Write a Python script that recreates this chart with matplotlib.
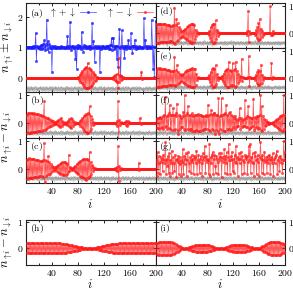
import matplotlib
matplotlib.use("Agg")
import matplotlib.pyplot as plt
from matplotlib.ticker import FuncFormatter, MultipleLocator

plt.rcParams.update({
    "mathtext.fontset": "cm",
    "font.family": "serif",
    "font.serif": ["DejaVu Serif"],
    "font.size": 7,
})

sites = list(range(1, 201))

a_sum = [1.00, 0.99, 1.01, 0.98, 1.02, 1.00, 0.99, 1.01, 1.00, 0.98, 1.03, 0.97, 1.02, 1.05, 1.46, 0.56, 1.04, 0.96, 1.02, 0.99,
         1.03, 0.95, 1.06, 0.93, 1.08, 0.96, 1.10, 1.22, 1.05, 0.90, 1.12, 1.89, 0.95, 1.20, 0.85, 1.10, 0.96, 1.04, 0.98, 0.20,
         1.05, 0.98, 1.02, 0.97, 1.03, 0.99, 1.01, 0.98, 1.02, 1.00, 0.99, 1.01, 0.98, 1.03, 0.97, 1.02, 1.00, 0.99, 1.01, 0.98,
         1.02, 0.97, 1.03, 1.35, 0.96, 1.04, 0.98, 1.83, 1.02, 0.90, 1.05, 0.97, 1.03, 0.98, 1.02, 0.62, 1.04, 0.30, 0.98, 1.08,
         0.96, 1.04, 0.97, 1.03, 0.95, 1.50, 1.02, 0.85, 1.06, 0.97, 1.03, 0.96, 1.04, 0.98, 1.02, 0.97, 1.05, 0.95, 1.03, 0.98,
         1.02, 1.78, 0.97, 1.20, 1.01, 0.53, 1.04, 0.96, 1.03, 0.98, 1.02, 0.97, 1.04, 0.20, 1.02, 0.95, 1.05, 0.98, 1.03, 0.97,
         1.02, 0.98, 1.03, 0.97, 1.04, 0.96, 1.05, 0.95, 1.06, 0.94, 1.08, 1.30, 0.92, 1.05, 1.30, 0.95, 1.04, 0.96, 1.03, 0.62,
         1.05, 0.35, 1.02, 1.60, 0.98, 0.05, 1.04, 1.55, 0.96, 1.03, 0.97, 0.65, 1.05, 0.95, 1.04, 0.97, 1.03, 1.25, 0.96, 1.02,
         0.97, 1.45, 1.03, 0.80, 1.05, 0.96, 1.04, 1.25, 0.95, 1.03, 0.97, 1.02, 0.98, 1.03, 0.97, 1.02, 0.98, 1.01, 0.99, 1.02,
         0.97, 1.94, 1.03, 1.25, 0.96, 1.04, 0.98, 1.02, 0.97, 1.03, 0.98, 1.02, 0.97, 1.89, 1.03, 0.30, 1.00, 0.02, 1.02, 1.85]

a_diff = ([0.0] * 80 +
          [0.04, -0.06, 0.10, -0.12, 0.16, -0.18, 0.22, -0.24, 0.28, -0.30, 0.32, -0.33, 0.35, -0.34, 0.48, -0.32, 0.33, -0.30, 0.30, -0.28,
           0.25, -0.22, 0.20, -0.17, 0.14, -0.11, 0.08, -0.06, 0.04, -0.02, 0.01, 0.0, 0.0, 0.0, 0.0, 0.0, 0.0, 0.0, 0.0, 0.0] +
          [0.0] * 13 +
          [0.02, -0.03, 0.05, -0.06, 0.08, -0.10, 0.12, -0.15, -0.34, 0.64, -0.12, 0.10, -0.07, 0.05, -0.03, 0.02, -0.01] +
          [0.0] * 27 + [0.20, -0.05] + [0.0] * 21)

b_diff = ([0.30, -0.35, 0.36, -0.34, 0.37, -0.35, 0.36, -0.34, 0.35, -0.33, 0.34, -0.33, 0.35, -0.32, 0.33, -0.31, 0.32, -0.30, 0.31, -0.29,
           0.30, -0.28, 0.28, -0.27, 0.26, -0.25, 0.25, 0.78, -0.24, 0.22, -0.21, 0.20, -0.18, 0.17, -0.15, 0.14, -0.12, 0.11, -0.09, 0.08,
           -0.07, 0.06, -0.05, 0.04, -0.03, 0.03, -0.04, 0.06, -0.08, 0.10, -0.12, 0.14, -0.15, 0.18, -0.12, 0.08, -0.05, 0.03, -0.02, 0.01,
           0.02, -0.03, 0.05, -0.07, 0.09, -0.11, 0.13, -0.15, 0.17, -0.18, 0.15, -0.12, 0.08, -0.05, 0.03, -0.02, 0.01, 0.0, 0.0, 0.0,
           0.02, -0.04, 0.06, -0.09, 0.12, -0.15, 0.18, -0.21, 0.24, -0.27, 0.30, -0.32, 0.34, -0.35, 0.36, -0.35, 0.34, 0.60, -0.30, 0.26,
           -0.20, 0.14, -0.08, 0.04, -0.02, 0.01] + [0.0] * 31 +
          [0.02, -0.04, 0.06, -0.10, 0.78, -0.60, 0.12, -0.06, 0.03] + [0.0] * 6 +
          [0.03, -0.06, 0.08, -0.10, 0.08, -0.05, 0.03] + [0.0] * 16 + [0.20, -0.05] + [0.0] * 23)

c_diff = ([0.32, -0.36, 0.35, -0.34, 0.37, -0.33, 0.36, -0.35, 0.34, -0.33, 0.35, -0.32, 0.33, -0.31, 0.32, -0.30, 0.31, -0.29, 0.30, -0.28,
           0.28, -0.27, 0.26, -0.25, 0.27, -0.30, 0.32, 0.92, -0.50, 0.30, -0.25, 0.28, -0.22, 0.45, -0.20, 0.22, -0.18, 0.15, -0.12, 0.10,
           -0.08, 0.06, -0.05, 0.04, -0.03, 0.05, -0.07, 0.09, -0.11, 0.13, -0.15, 0.17, -0.19, 0.20, -0.21, 0.22, -0.22, 0.23, -0.23, 0.24,
           -0.22, 0.20, -0.18, 0.15, -0.12, 0.50, -0.10, 0.06, -0.04, 0.03, -0.02, 0.03, -0.05, 0.07, -0.09, 0.11, -0.13, 0.15, -0.17, 0.19,
           -0.21, 0.23, -0.25, 0.27, -0.29, 0.30, -0.32, 0.33, -0.34, 0.35, -0.36, 0.35, -0.40, 0.34, -0.33, 0.32, -0.30, 0.60, -0.28, 0.24,
           -0.18, 0.12, -0.07, 0.04, -0.02, 0.01] + [0.0] * 31 +
          [0.03, -0.05, 0.06, -0.10, 0.80, -0.45, 0.10, -0.05, 0.02] + [0.0] * 27 + [0.20, -0.04] + [0.0] * 25)

d_diff = ([0.33, -0.35, 0.36, -0.34, 0.35, -0.34, 0.36, -0.33, 0.34, -0.33, 0.35, -0.32, 0.34, -0.31, 0.33, -0.31, 0.32, -0.30, 0.31, -0.30,
           0.30, -0.29, 0.29, -0.28, 0.28, -0.30, 0.32, -0.35, 0.95, -0.40, 0.30, 0.53, -0.28, 0.38, -0.25, 0.22, -0.18, 0.15, -0.12, 0.10,
           -0.08, 0.10, -0.12, 0.14, -0.16, 0.18, -0.20, 0.22, -0.24, 0.26, -0.28, 0.30, -0.31, 0.33, -0.34, 0.35, -0.35, 0.34, -0.33, 0.30,
           -0.22, 0.14, -0.08, 0.04, -0.02, 0.01] + [0.0] * 14 +
          [0.02, -0.05, 0.10, -0.16, 0.22, -0.28, 0.32, -0.35, 0.35, -0.34, 0.33, -0.30, 0.48, -0.22, 0.14, -0.08, 0.04, -0.02, 0.01] +
          [0.0] * 40 +
          [0.03, -0.06, 0.10, 0.83, -0.30, 0.08, -0.04, 0.02] + [0.0] * 5 +
          [0.03, -0.07, 0.12, -0.17, 0.22, -0.25, 0.38, -0.25, 0.53, -0.22, 0.18, -0.13, 0.09, -0.05, 0.03, -0.01] + [0.0] * 8 +
          [1.00, -0.05, 0.03, -0.06, 0.08, -0.04, 0.02] + [0.0] * 17)

e_diff = ([0.30, -0.33, 0.35, -0.32, 0.34, -0.33, 0.35, -0.32, 0.33, -0.31, 0.33, -0.31, 0.32, -0.30, 0.31, -0.30, 0.30, -0.29, 0.29, -0.28,
           0.28, -0.27, 0.27, -0.26, 0.26, -0.25, 0.25, -0.27, 0.77, -0.30, 0.28, -0.25, 0.48, -0.22, 0.20, -0.18, 0.16, -0.14, 0.12, -0.11,
           0.12, -0.14, 0.16, -0.18, 0.20, -0.22, 0.24, -0.26, 0.28, -0.29, 0.30, -0.31, 0.32, -0.33, 0.34, -0.35, 0.35, -0.35, 0.34, -0.34,
           0.33, -0.25, 0.15, -0.08, 0.04, -0.02, 0.01] + [0.0] * 13 +
          [0.02, -0.05, 0.10, -0.16, 0.22, -0.28, 0.32, -0.34, 0.35, -0.34, 0.33, -0.30, 0.48, -0.22, 0.14, -0.08, 0.04, -0.02, 0.01, 0.0,
           0.02, -0.05, 0.08, -0.12, 0.16, -0.20, 0.24, -0.27, 0.30, -0.32, 0.34, -0.33, 0.60, -0.32, 0.30, -0.28, 0.27, -0.30, 0.54, -0.28,
           0.30, -0.32, 0.34, 0.60, -0.30, 0.25, -0.20, 0.15, -0.10, 0.06, -0.04, 0.03, 0.70, -0.10, 0.04, -0.02, 0.01, 0.0, 0.0, 0.0,
           0.0, 0.0, 0.02, 0.80, -0.30, 0.05, -0.02, 0.0, 0.0, 0.0, 0.0, 0.0, 0.03, -0.07, 0.12, -0.17, 0.22, -0.25, 0.28, -0.28,
           0.26, -0.24, 0.48, -0.18, 0.12, -0.08, 0.04, -0.02, 0.01, 0.0, 0.0, 0.0, 0.0, 0.0, 0.0, 0.0, 0.0, 0.0, 0.54, -0.05,
           0.03, -0.01] + [0.0] * 18)

f_diff = [0.15, -0.18, 0.20, -0.16, 0.18, -0.20, 0.22, -0.18, 0.20, -0.15, 0.25, -0.20, 0.30, -0.15, 0.95, -0.10, 0.25, -0.22, 0.30, -0.18,
          0.35, 0.65, -0.20, 0.30, -0.25, 0.28, 0.53, -0.25, 0.30, -0.20, 0.35, 0.25, 0.70, -0.25, -0.40, 0.30, -0.20, 0.25, -0.15, 0.20,
          -0.15, 0.25, 0.40, -0.20, 1.00, -0.25, 0.30, -0.20, 0.35, 0.60, -0.25, 0.30, -0.22, 0.28, -0.20, 0.35, -0.30, 0.25, -0.28, 0.30,
          -0.28, 0.30, -0.26, 0.28, -0.30, 0.32, -0.28, 0.30, -0.27, 0.28, -0.25, 0.26, -0.24, 0.25, -0.22, 0.24, -0.22, 0.30, -0.20, 0.25,
          0.65, -0.25, 0.30, -0.28, 0.32, 0.47, -0.20, 0.30, -0.25, 0.35, 0.35, -0.40, 0.30, -0.25, 0.28, -0.30, 0.90, -0.40, 0.25, -0.20,
          0.30, 0.90, -0.25, 0.30, -0.28, 0.32, -0.30, 0.35, 0.65, -0.20, 0.30, -0.25, 0.35, -0.22, 0.40, -0.25, 0.30, -0.20, 0.25, -0.15,
          0.20, -0.20, 0.25, -0.15, 0.15, -0.10, 0.12, -0.10, 0.20, 0.53, -0.20, 0.18, -0.15, 0.12, -0.10, 0.15, -0.12, 0.82, -0.15, 0.20,
          -0.15, 0.25, 0.60, -0.20, 0.22, -0.18, 0.20, -0.15, 0.18, -0.12, 0.88, -0.25, 0.22, -0.18, 0.20, -0.15, 0.25, -0.20, 0.25, -0.18,
          0.30, 1.00, -0.25, 0.60, -0.30, 0.25, -0.20, 0.15, -0.12, 0.10, -0.08, 0.05, -0.04, 0.03, -0.02, 0.01, 0.0, 0.0, 0.0, 0.02,
          -0.03, 0.04, -0.06, 0.08, -0.10, 0.12, -0.14, 0.16, -0.18, 0.20, -0.22, 0.24, -0.25, 0.26, -0.27, 0.28, -0.28, 1.00, -0.20, 0.30]

g_diff = [0.30, -0.25, 0.60, -0.15, 0.45, 0.20, -0.20, 0.40, 0.25, 0.35, -0.10, 0.50, 0.20, 0.30, 0.95, -0.20, 0.35, 0.10, 0.45, -0.15,
          0.55, -0.25, 0.30, 0.20, 0.65, -0.15, 0.40, 0.20, -0.10, 0.50, 0.30, -0.30, 0.35, 0.25, 0.45, -0.20, 0.40, 0.15, 0.30, -0.25,
          0.25, 0.70, -0.20, 0.45, 0.15, 0.35, 0.55, -0.25, 0.30, 0.60, 0.20, -0.10, 0.40, 0.30, -0.15, 0.50, 0.25, 0.35, -0.20, 0.45,
          0.40, 0.20, 0.65, -0.20, 0.30, 0.50, 0.25, -0.15, 0.35, 0.45, 0.20, -0.25, 0.55, 0.30, 0.40, 0.82, -0.15, 0.45, 0.25, 0.35,
          0.30, -0.20, 0.88, -0.25, 0.40, 0.20, 0.50, 0.60, -0.20, 0.35, 0.50, 0.10, -0.15, 0.45, 0.35, 0.25, -0.20, 0.55, 0.30, 0.40,
          0.55, -0.30, 0.40, 0.25, 0.35, 0.70, -0.15, 0.45, 0.20, 0.60, -0.20, 0.40, 0.90, 0.30, -0.20, 0.45, 0.30, 0.60, -0.10, 0.35,
          -0.15, 0.50, 0.25, 0.80, 0.20, 0.40, -0.25, 0.35, 0.55, 0.20, 0.35, 0.60, -0.20, 0.45, 0.30, 0.25, -0.15, 0.50, 0.35, 0.40,
          0.45, -0.20, 0.25, 0.80, 0.30, 0.88, -0.15, 0.40, 0.25, 0.55, 0.20, -0.25, 0.45, 0.60, 0.30, -0.20, 0.35, 0.50, 0.25, -0.25,
          0.40, 0.95, 0.35, -0.15, 0.50, 0.30, -0.20, 0.60, 0.25, 0.30, 0.40, -0.15, 0.45, 0.20, 0.35, 0.50, -0.20, 0.30, 0.40, 0.20,
          0.55, -0.25, 0.35, 0.20, 0.40, 0.50, 0.65, -0.20, 0.30, 0.40, -0.10, 0.25, 0.45, 0.35, 0.20, -0.15, 0.30, 1.00, 0.30, 0.60]

grey_ref = [-0.33, -0.38, -0.31, -0.36, -0.40, -0.32, -0.35, -0.29, -0.37, -0.34, -0.39, -0.31, -0.36, -0.33, -0.30, -0.38, -0.35, -0.41, -0.32, -0.36,
            -0.34, -0.29, -0.37, -0.33, -0.39, -0.35, -0.31, -0.36, -0.40, -0.33, -0.30, -0.37, -0.34, -0.38, -0.32, -0.35, -0.29, -0.36, -0.39, -0.31,
            -0.35, -0.33, -0.40, -0.34, -0.30, -0.37, -0.32, -0.38, -0.35, -0.31, -0.36, -0.39, -0.33, -0.29, -0.35, -0.38, -0.32, -0.36, -0.34, -0.40,
            -0.31, -0.35, -0.37, -0.30, -0.34, -0.39, -0.33, -0.36, -0.31, -0.38, -0.35, -0.32, -0.40, -0.34, -0.29, -0.37, -0.33, -0.36, -0.39, -0.31,
            -0.34, -0.38, -0.30, -0.35, -0.37, -0.32, -0.41, -0.34, -0.36, -0.30, -0.38, -0.33, -0.35, -0.39, -0.31, -0.36, -0.34, -0.37, -0.32, -0.35,
            -0.37, -0.31, -0.34, -0.39, -0.33, -0.36, -0.30, -0.38, -0.35, -0.32, -0.40, -0.34, -0.31, -0.37, -0.35, -0.29, -0.36, -0.38, -0.33, -0.35,
            -0.30, -0.36, -0.39, -0.32, -0.35, -0.37, -0.31, -0.34, -0.40, -0.33, -0.36, -0.30, -0.38, -0.35, -0.32, -0.37, -0.34, -0.39, -0.31, -0.36,
            -0.38, -0.33, -0.35, -0.30, -0.37, -0.34, -0.40, -0.32, -0.36, -0.31, -0.35, -0.38, -0.33, -0.29, -0.36, -0.39, -0.34, -0.31, -0.37, -0.33,
            -0.35, -0.40, -0.32, -0.36, -0.30, -0.38, -0.34, -0.37, -0.31, -0.35, -0.39, -0.33, -0.36, -0.30, -0.38, -0.34, -0.32, -0.37, -0.35, -0.40,
            -0.32, -0.36, -0.34, -0.38, -0.31, -0.35, -0.37, -0.33, -0.39, -0.30, -0.36, -0.34, -0.38, -0.32, -0.35, -0.37, -0.31, -0.36, -0.33, -0.38]

h_diff = ([0.19, -0.19] * 27 +
          [0.18, -0.18, 0.18, -0.17, 0.17, -0.17,
           0.16, -0.16, 0.15, -0.15, 0.14, -0.14, 0.13, -0.13, 0.12, -0.12, 0.11, -0.11, 0.10, -0.10, 0.09, -0.09, 0.08, -0.08, 0.07, -0.07,
           0.06, -0.06, 0.05, -0.05, 0.05, -0.04, 0.04, -0.04, 0.03, -0.03, 0.03, -0.02, 0.02, -0.02, 0.02, -0.01, 0.01, -0.01, 0.01, -0.01,
           0.01, -0.01, 0.01, -0.02, 0.02, -0.02, 0.03, -0.03, 0.04, -0.04, 0.05, -0.05, 0.06, -0.06, 0.07, -0.07, 0.08, -0.08, 0.09, -0.09,
           0.10, -0.10, 0.11, -0.11, 0.12, -0.12, 0.13, -0.13, 0.14, -0.14, 0.15, -0.15, 0.16, -0.16, 0.16, -0.17, 0.17, -0.17, 0.18, -0.18,
           0.18, -0.18] +
          [0.19, -0.19] * 29)

i_diff = [0.21, -0.22, 0.22, -0.23, 0.23, -0.24, 0.24, -0.24, 0.25, -0.25, 0.25, -0.25, 0.25, -0.25, 0.25, -0.25, 0.25, -0.25, 0.25, -0.25,
          0.25, -0.24, 0.24, -0.23, 0.23, -0.22, 0.21, -0.20, 0.19, -0.18, 0.16, -0.15, 0.13, -0.12, 0.10, -0.09, 0.08, -0.06, 0.05, -0.04,
          0.03, -0.03, 0.02, -0.02, 0.01, -0.01, 0.01, -0.02, 0.02, -0.03, 0.04, -0.05, 0.05, -0.06, 0.07, -0.08, 0.09, -0.09, 0.10, -0.11,
          0.11, -0.12, 0.12, -0.13, 0.13, -0.13, 0.14, -0.14, 0.14, -0.14, 0.14, -0.14, 0.14, -0.14, 0.14, -0.14, 0.13, -0.13, 0.13, -0.12,
          0.12, -0.11, 0.11, -0.10, 0.09, -0.09, 0.08, -0.07, 0.06, -0.05, 0.05, -0.04, 0.03, -0.03, 0.02, -0.02, 0.01, -0.01, 0.01, -0.01,
          0.01, -0.01, 0.01, -0.02, 0.02, -0.03, 0.03, -0.04, 0.05, -0.05, 0.06, -0.07, 0.08, -0.09, 0.09, -0.10, 0.11, -0.11, 0.12, -0.12,
          0.13, -0.13, 0.13, -0.14, 0.14, -0.14, 0.14, -0.14, 0.14, -0.14, 0.14, -0.14, 0.14, -0.13, 0.13, -0.13, 0.12, -0.12, 0.11, -0.11,
          0.10, -0.09, 0.09, -0.08, 0.07, -0.06, 0.05, -0.05, 0.04, -0.03, 0.03, -0.02, 0.02, -0.01, 0.01, -0.01, 0.01, -0.01, 0.02, -0.02,
          0.03, -0.04, 0.05, -0.06, 0.08, -0.09, 0.10, -0.12, 0.13, -0.15, 0.16, -0.18, 0.19, -0.20, 0.21, -0.22, 0.23, -0.24, 0.24, -0.25,
          0.25, -0.25, 0.25, -0.25, 0.25, -0.25, 0.25, -0.25, 0.24, -0.24, 0.23, -0.23, 0.22, -0.21, 0.20, -0.19, 0.18, -0.17, 0.16, -0.15]

x_ticks = [40, 80, 120, 160, 200]
panel_labels = ["(a)", "(b)", "(c)", "(d)", "(e)", "(f)", "(g)", "(h)", "(i)"]

W, H = 293, 291
fig = plt.figure(figsize=(W / 100, H / 100), dpi=100)


def frac(x0, x1, ytop, ybot):
    return [x0 / W, 1 - ybot / H, (x1 - x0) / W, (ybot - ytop) / H]


XL0, XM, XR = 26, 155.6, 285
rows = {"top": 3, "de": 47.5, "ab": 92, "bc": 137.5, "bot": 183, "ht": 219.5, "hb": 265}

RED = "#ff1a1a"
BLUE = "#1a1aff"
GREY = "#9a9a9a"

mfmt = FuncFormatter(lambda v, p: r"$%d$" % v)


def style(ax, side, yticks, ylim, showx):
    ax.set_xlim(0, 200)
    ax.set_ylim(*ylim)
    ax.xaxis.set_major_locator(MultipleLocator(40))
    ax.xaxis.set_minor_locator(MultipleLocator(20))
    ax.set_yticks(yticks)
    ax.tick_params(direction="in", which="both", top=True, bottom=True,
                   left=True, right=True, length=2.5, width=0.6, labelsize=7, pad=2)
    ax.tick_params(which="minor", length=1.5)
    if side == "right":
        ax.yaxis.tick_right()
        ax.tick_params(left=True, which="both", direction="in")
    ax.yaxis.set_major_formatter(mfmt)
    if showx:
        ax.set_xticks(x_ticks)
        ax.xaxis.set_major_formatter(mfmt)
    else:
        ax.tick_params(labelbottom=False)
    for s in ax.spines.values():
        s.set_linewidth(0.8)
        s.set_color("#222222")


def red_plot(ax, vals):
    ax.plot(sites, vals, color=RED, lw=0.5, marker="o", ms=1.8,
            mec=RED, mew=0.3, mfc=RED, alpha=0.75, zorder=3)


def grey_plot(ax):
    ax.plot(sites, grey_ref, color=GREY, lw=0.4, marker="o", ms=1.0,
            mec=GREY, mfc="none", mew=0.4, zorder=2)


ylim_small = (-0.52, 1.12)

# (a)
ax_a = fig.add_axes(frac(XL0, XM, rows["top"], rows["ab"]))
ax_a.plot(sites, a_sum, color=BLUE, lw=0.5, marker="o", ms=1.8, mec=BLUE,
          mfc=BLUE, mew=0.3, alpha=0.8, label=r"$\uparrow+\downarrow$", zorder=3)
ax_a.plot(sites, a_diff, color=RED, lw=0.5, marker="o", ms=1.8, mec=RED,
          mfc=RED, mew=0.3, alpha=0.8, label=r"$\uparrow-\downarrow$", zorder=3)
grey_plot(ax_a)
style(ax_a, "left", [0, 1, 2], (-0.46, 2.44), False)
ax_a.legend(loc="upper right", ncol=2, frameon=False, markerfirst=False,
            fontsize=7, handlelength=1.6, columnspacing=1.0, handletextpad=0.4,
            borderaxespad=0.1, borderpad=0.2)

panels_left = [("(b)", b_diff, rows["ab"], rows["bc"], False),
               ("(c)", c_diff, rows["bc"], rows["bot"], True)]
panels_right = [("(d)", d_diff, rows["top"], rows["de"], False),
                ("(e)", e_diff, rows["de"], rows["ab"], False),
                ("(f)", f_diff, rows["ab"], rows["bc"], False),
                ("(g)", g_diff, rows["bc"], rows["bot"], True)]

axes = {"(a)": ax_a}
for lab, vals, yt, yb, showx in panels_left:
    ax = fig.add_axes(frac(XL0, XM, yt, yb))
    red_plot(ax, vals)
    grey_plot(ax)
    style(ax, "left", [0, 1], ylim_small, showx)
    axes[lab] = ax
for lab, vals, yt, yb, showx in panels_right:
    ax = fig.add_axes(frac(XM, XR, yt, yb))
    red_plot(ax, vals)
    grey_plot(ax)
    style(ax, "right", [0, 1], ylim_small, showx)
    axes[lab] = ax

ax_h = fig.add_axes(frac(XL0, XM, rows["ht"], rows["hb"]))
red_plot(ax_h, h_diff)
style(ax_h, "left", [0, 1], (-0.62, 1.08), True)
axes["(h)"] = ax_h
ax_i = fig.add_axes(frac(XM, XR, rows["ht"], rows["hb"]))
red_plot(ax_i, i_diff)
style(ax_i, "right", [0, 1], (-0.62, 1.08), True)
axes["(i)"] = ax_i

for lab in panel_labels:
    ax = axes[lab]
    ax.text(0.03, 0.95, r"$\mathrm{%s}$" % lab, transform=ax.transAxes,
            ha="left", va="top", fontsize=7, zorder=5)

fig.text(8 / W, 1 - 47 / H, r"$n_{\uparrow i}\pm n_{\downarrow i}$", rotation=90,
         ha="center", va="center", fontsize=9)
fig.text(8 / W, 1 - 137 / H, r"$n_{\uparrow i}-n_{\downarrow i}$", rotation=90,
         ha="center", va="center", fontsize=9)
fig.text(8 / W, 1 - 242 / H, r"$n_{\uparrow i}-n_{\downarrow i}$", rotation=90,
         ha="center", va="center", fontsize=9)
for xc in (90, 220):
    fig.text(xc / W, 1 - 205 / H, r"$i$", ha="center", va="center", fontsize=9)
    fig.text(xc / W, 1 - 285 / H, r"$i$", ha="center", va="center", fontsize=9)

fig.savefig("out.png", dpi=100)
